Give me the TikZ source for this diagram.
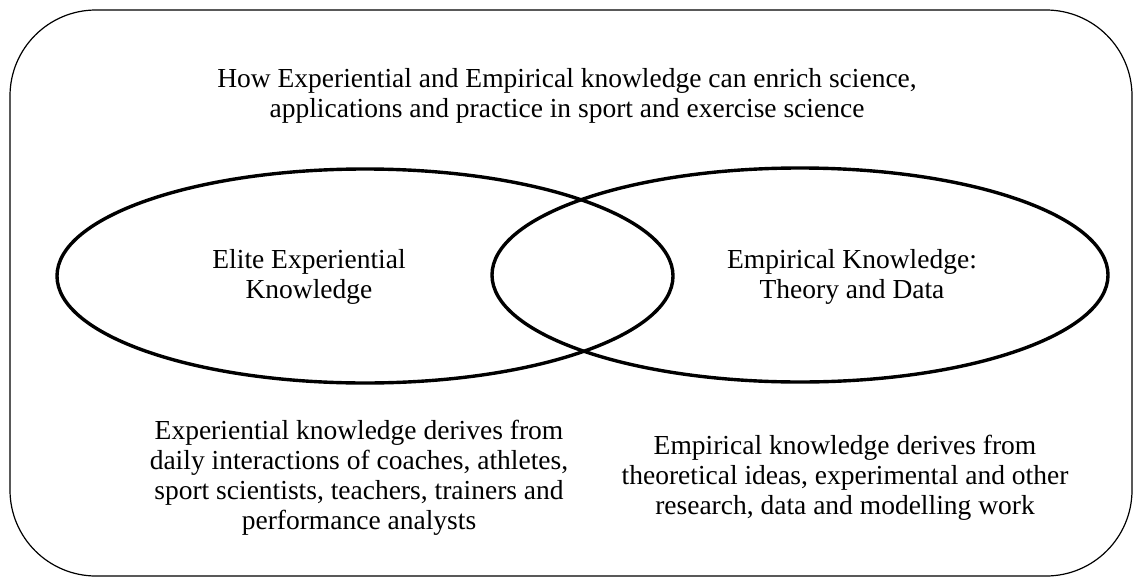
\documentclass[tikz,border=0pt]{standalone}
\usepackage{fontspec}
\setmainfont{Liberation Serif}
\usetikzlibrary{shapes.geometric}

\begin{document}
\begin{tikzpicture}[x=0.5pt, y=-0.5pt,
    venn/.style={ellipse, draw=black, line width=1.7pt, minimum width=308pt, minimum height=107pt, inner sep=0pt},
    txt/.style={align=center, font=\fontsize{13.75}{15}\selectfont, inner sep=0pt}]
      \useasboundingbox (0, 0) rectangle (1134, 578);

      % frame
      \draw[line width=0.6pt, rounded corners=43pt] (10, 10) rectangle (1132, 576);

      \node[txt] (title) at (567, 96) {How Experiential and Empirical knowledge can enrich science,\\applications and practice in sport and exercise science};

      % the two sets
      \node[venn] (exp) at (365, 276) {};
      \node[venn] (emp) at (800, 275) {};

      \node[txt] (expname) at (309, 277) {Elite Experiential\\Knowledge};
      \node[txt] (empname) at (852, 277) {Empirical Knowledge:\\Theory and Data};

      \node[txt] (expnote) at (359, 478) {Experiential knowledge derives from\\daily interactions of coaches, athletes,\\sport scientists, teachers, trainers and\\performance analysts};
      \node[txt] (empnote) at (845, 478) {Empirical knowledge derives from\\theoretical ideas, experimental and other\\research, data and modelling work};

\end{tikzpicture}
\end{document}
